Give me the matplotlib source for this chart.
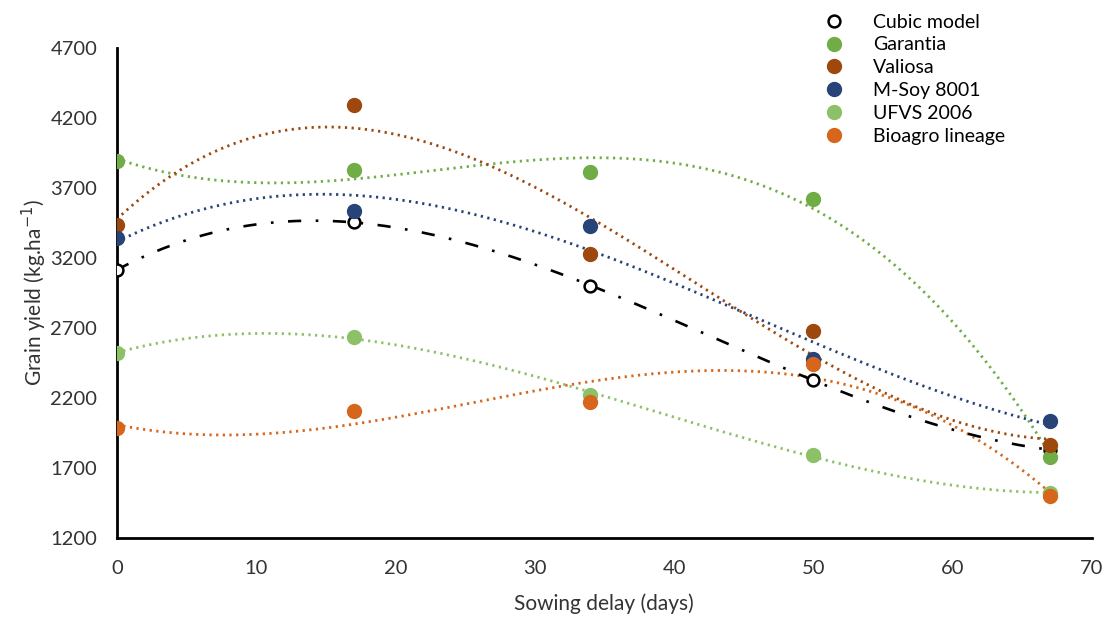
import matplotlib.pyplot as plt
import numpy as np

plt.rcParams['font.family'] = ['Lato', 'DejaVu Sans']

days = np.array([0, 17, 34, 50, 67])
cubic_model = [3114, 3457, 3000, 2329, 1829]
garantia = [3893, 3829, 3814, 3621, 1779]
valiosa = [3436, 4293, 3229, 2679, 1864]
msoy = [3343, 3536, 3429, 2479, 2036]
ufvs = [2521, 2636, 2221, 1793, 1521]
bioagro = [1986, 2107, 2171, 2443, 1500]

series = [
    ('Garantia', garantia, '#70AD47'),
    ('Valiosa', valiosa, '#9E480E'),
    ('M-Soy 8001', msoy, '#264478'),
    ('UFVS 2006', ufvs, '#8CC168'),
    ('Bioagro lineage', bioagro, '#D6661C'),
]

fig = plt.figure(figsize=(11.12, 6.21), dpi=100)
ax = fig.add_axes([0.105, 0.1337, 0.877, 0.789])

xs = np.linspace(0, 67, 300)

# polynomial trend lines (order 3), like the spreadsheet trendlines
handles = []
for name, vals, color in series:
    coef = np.polyfit(days, vals, 3)
    ax.plot(xs, np.polyval(coef, xs), color=color, lw=2.0,
            linestyle=(0, (0.8, 1.6)), zorder=2)

coef = np.polyfit(days, cubic_model, 3)
ax.plot(xs, np.polyval(coef, xs), color='black', lw=1.9,
        linestyle=(0, (5, 5.5, 1, 5.5)), zorder=3)

h, = ax.plot(days, cubic_model, 'o', mfc='white', mec='black', mew=1.8,
             ms=8.5, linestyle='none', label='Cubic model', zorder=4)
handles.append(h)
for name, vals, color in series:
    h, = ax.plot(days, vals, 'o', color=color, ms=10, linestyle='none',
                 label=name, zorder=4)
    handles.append(h)

ax.set_xlim(0, 70)
ax.set_ylim(1200, 4700)
ax.set_xticks(range(0, 71, 10))
ax.set_yticks(range(1200, 4701, 500))
ax.tick_params(axis='x', length=0, labelsize=14.5, colors='#333333', pad=16)
ax.tick_params(axis='y', length=0, labelsize=14.5, colors='#333333', pad=14)
ax.spines['top'].set_visible(False)
ax.spines['right'].set_visible(False)
ax.spines['left'].set_linewidth(2)
ax.spines['bottom'].set_linewidth(2)
ax.set_xlabel('Sowing delay (days)', fontsize=15, color='#333333', labelpad=12)
ax.set_ylabel('Grain yield (kg.ha$^{-1}$)', fontsize=15, color='#333333',
              labelpad=1)

fig.legend(handles=handles, loc='upper left', bbox_to_anchor=(0.729, 1.0),
           frameon=False, fontsize=14, handlelength=1.0, handletextpad=1.5,
           labelspacing=0.3, borderaxespad=0.3)

fig.savefig('out.png', dpi=100)
